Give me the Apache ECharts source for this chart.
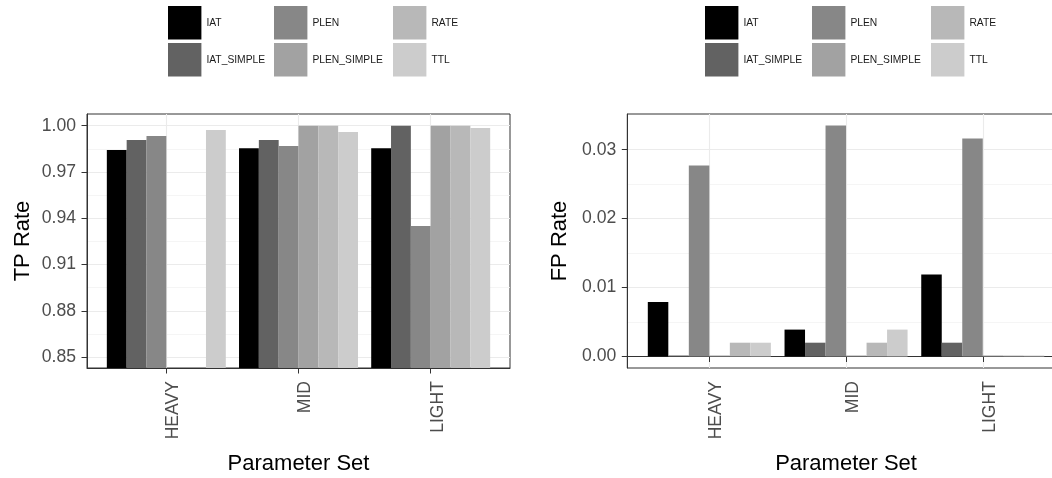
<!DOCTYPE html>
<html>
<head>
<meta charset="utf-8">
<script src="https://cdn.jsdelivr.net/npm/echarts@6/dist/echarts.min.js"></script>
<style>
  html, body { margin: 0; padding: 0; background: #ffffff; }
  #chart { width: 1052px; height: 478px; }
</style>
</head>
<body>
<div id="chart"></div>
<script>
// Parameter sets on the x axis and the feature series drawn in each group
const parameterSets = ['HEAVY', 'MID', 'LIGHT'];
const featureNames = ['IAT', 'IAT_SIMPLE', 'PLEN', 'PLEN_SIMPLE', 'RATE', 'TTL'];
const featureColors = ['#000000', '#626262', '#878787', '#a2a2a2', '#b8b8b8', '#cccccc'];

// True-positive rate per feature (HEAVY, MID, LIGHT)
const tpIAT        = [0.9842, 0.9853, 0.9853];
const tpIATSimple  = [0.9907, 0.9907, 1.0000];
const tpPLEN       = [0.9933, 0.9868, 0.9350];
const tpPLENSimple = [null,   1.0000, 1.0000];
const tpRATE       = [null,   1.0000, 1.0000];
const tpTTL        = [0.9972, 0.9959, 0.9985];

// False-positive rate per feature (HEAVY, MID, LIGHT)
const fpIAT        = [0.0079, 0.0039, 0.0119];
const fpIATSimple  = [0.0000, 0.0020, 0.0020];
const fpPLEN       = [0.0277, 0.0335, 0.0316];
const fpPLENSimple = [0.0000, 0.0000, 0.0000];
const fpRATE       = [0.0020, 0.0020, 0.0000];
const fpTTL        = [0.0020, 0.0039, 0.0000];

// Axis tick values (major labelled, minor only gridlines)
const tpTicks      = [0.85, 0.88, 0.91, 0.94, 0.97, 1.00];
const tpMinorTicks = [0.865, 0.895, 0.925, 0.955, 0.985];
const fpTicks      = [0.00, 0.01, 0.02, 0.03];
const fpMinorTicks = [0.005, 0.015, 0.025];
const groupTicks   = [1, 2, 3];

const tpSeries = [tpIAT, tpIATSimple, tpPLEN, tpPLENSimple, tpRATE, tpTTL];
const fpSeries = [fpIAT, fpIATSimple, fpPLEN, fpPLENSimple, fpRATE, fpTTL];

const FONT = '"Liberation Sans", Arial, Helvetica, sans-serif';
const INK = '#333333';
const GRID_MAJOR = '#ebebeb';
const GRID_MINOR = '#f3f3f3';

const panels = [
  { left: 87,    width: 423,   yMin: 0.8429,  yMax: 1.00755, ticks: tpTicks, minor: tpMinorTicks,
    name: 'TP Rate', nameGap: 53, values: tpSeries, minHeight: 0, legendX: [168, 274, 393] },
  { left: 627.3, width: 437.5, yMin: -0.00167, yMax: 0.03517, ticks: fpTicks, minor: fpMinorTicks,
    name: 'FP Rate', nameGap: 56, values: fpSeries, minHeight: 1, legendX: [705, 812, 931] }
];

const legendColumns = [['IAT', 'IAT_SIMPLE'], ['PLEN', 'PLEN_SIMPLE'], ['RATE', 'TTL']];

const grid = [], xAxis = [], yAxis = [], series = [], legend = [];

panels.forEach((p, gi) => {
  grid.push({
    left: p.left, width: p.width, top: 114, height: 254,
    show: true, borderColor: INK, borderWidth: 1, backgroundColor: 'transparent',
    containLabel: false, outerBoundsMode: 'none'
  });

  xAxis.push({
    type: 'value', gridIndex: gi, min: 0.4, max: 3.6,
    axisLine: { show: true, lineStyle: { color: INK, width: 1 } },
    axisTick: { show: true, length: 5.5, customValues: groupTicks, lineStyle: { color: INK, width: 1 } },
    axisLabel: {
      customValues: groupTicks,
      formatter: v => parameterSets[Math.round(v) - 1],
      rotate: 90, margin: 13, fontSize: 17.6, color: '#4d4d4d', fontFamily: FONT,
      verticalAlign: 'top', lineHeight: 14
    },
    splitLine: { show: true, lineStyle: { color: GRID_MAJOR, width: 1.1 } },
    minorSplitLine: { show: false },
    name: 'Parameter Set', nameLocation: 'middle', nameGap: 85, nameMoveOverlap: false,
    nameTextStyle: { fontSize: 22, color: '#000000', fontFamily: FONT }
  });

  // main value axis: labels, ticks and major gridlines
  yAxis.push({
    type: 'value', gridIndex: gi, position: 'left', min: p.yMin, max: p.yMax,
    axisLine: { show: true, lineStyle: { color: INK, width: 1 } },
    axisTick: { show: true, length: 5.5, customValues: p.ticks, lineStyle: { color: INK, width: 1 } },
    axisLabel: {
      customValues: p.ticks, formatter: v => v.toFixed(2),
      margin: 11, fontSize: 17.6, color: '#4d4d4d', fontFamily: FONT
    },
    splitLine: { show: true, lineStyle: { color: GRID_MAJOR, width: 1.1 } },
    name: p.name, nameLocation: 'middle', nameGap: p.nameGap, nameMoveOverlap: false,
    nameTextStyle: { fontSize: 22, color: '#000000', fontFamily: FONT }
  });
  // companion axis carrying only the minor gridlines
  yAxis.push({
    type: 'value', gridIndex: gi, position: 'left', min: p.yMin, max: p.yMax,
    axisLine: { show: false },
    axisTick: { show: false, customValues: p.minor },
    axisLabel: { show: false, customValues: p.minor },
    splitLine: { show: true, lineStyle: { color: GRID_MINOR, width: 0.8 } }
  });

  featureNames.forEach((name, si) => {
    series.push({
      type: 'bar', name,
      xAxisIndex: gi, yAxisIndex: gi * 2,
      data: p.values[si].map((v, i) => [groupTicks[i], v]),
      barGap: '0%', barCategoryGap: '10%',
      barMinHeight: p.minHeight,
      clip: true,
      itemStyle: { color: featureColors[si] },
      emphasis: { disabled: true }
    });
  });

  legendColumns.forEach((col, ci) => {
    legend.push({
      data: col, orient: 'vertical', left: p.legendX[ci], top: 6,
      itemWidth: 33.4, itemHeight: 33.4, itemGap: 3.6, padding: 0,
      icon: 'rect', selectedMode: false,
      textStyle: { fontSize: 10.3, color: '#1a1a1a', fontFamily: FONT }
    });
  });
});

const chart = echarts.init(document.getElementById('chart'), null, { renderer: 'canvas' });
chart.setOption({
  animation: false,
  backgroundColor: '#ffffff',
  textStyle: { fontFamily: FONT },
  grid, xAxis, yAxis, series, legend
});
</script>
</body>
</html>
